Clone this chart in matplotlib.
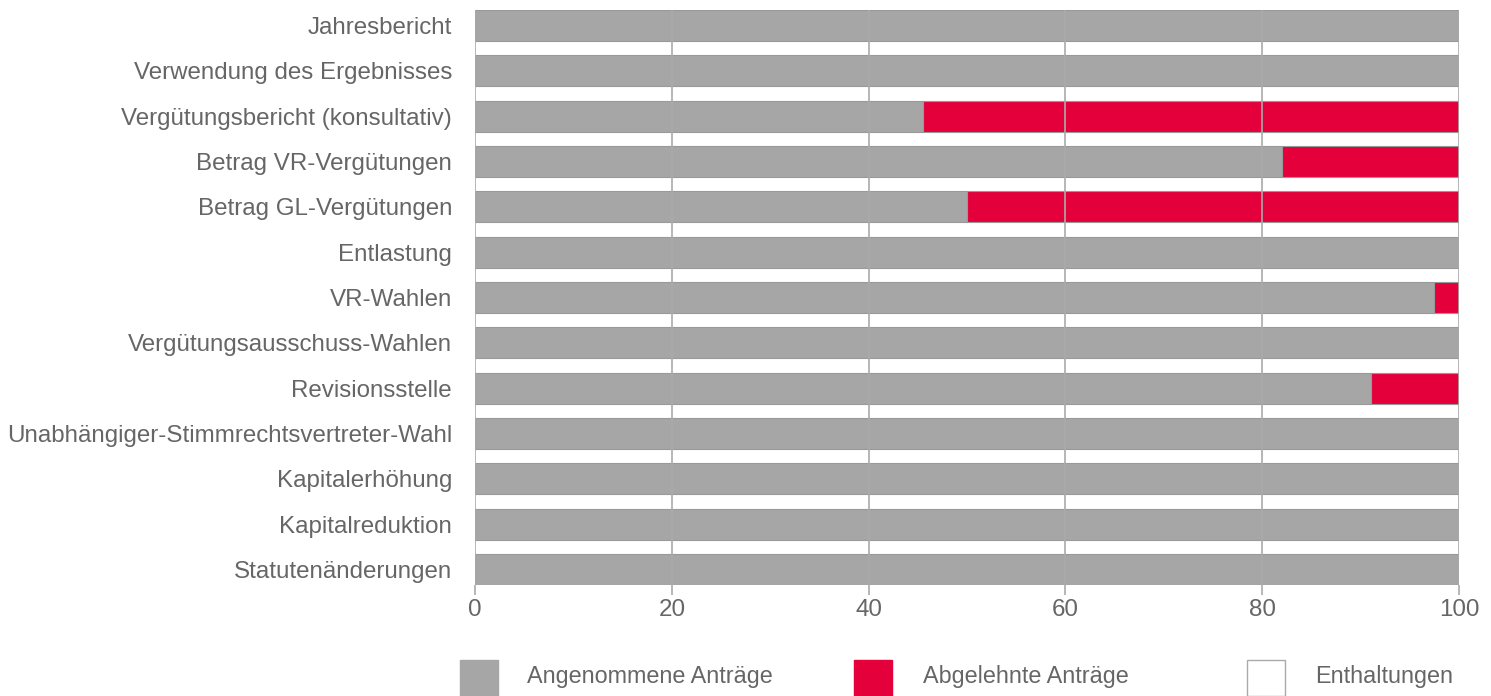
import matplotlib.pyplot as plt
from matplotlib.patches import Rectangle

plt.rcParams['font.family'] = ['Liberation Sans', 'DejaVu Sans']

# Daten
kategorien = [
    "Jahresbericht",
    "Verwendung des Ergebnisses",
    "Vergütungsbericht (konsultativ)",
    "Betrag VR-Vergütungen",
    "Betrag GL-Vergütungen",
    "Entlastung",
    "VR-Wahlen",
    "Vergütungsausschuss-Wahlen",
    "Revisionsstelle",
    "Unabhängiger-Stimmrechtsvertreter-Wahl",
    "Kapitalerhöhung",
    "Kapitalreduktion",
    "Statutenänderungen",
]
angenommen = [100, 100, 45.5, 82, 50, 100, 97.5, 100, 91, 100, 100, 100, 100]
abgelehnt = [0, 0, 54.5, 18, 50, 0, 2.5, 0, 9, 0, 0, 0, 0]
enthaltungen = [0, 0, 0, 0, 0, 0, 0, 0, 0, 0, 0, 0, 0]
x_ticks = [0, 20, 40, 60, 80, 100]
legende = ["Angenommene Anträge", "Abgelehnte Anträge", "Enthaltungen"]

grau = "#a6a6a6"
rot = "#e4003a"
text_farbe = "#666666"
fs = 17.4

fig = plt.figure(figsize=(14.91, 6.96), dpi=100)
ax = fig.add_axes([0.3186, 0.1595, 0.66, 0.8261])

y = list(range(len(kategorien)))
ax.barh(y, angenommen, height=0.68, color=grau, edgecolor="#999999", linewidth=0.8, zorder=2)
ax.barh(y, abgelehnt, left=angenommen, height=0.68, color=rot, edgecolor="#999999", linewidth=0.8, zorder=2)
links = [a + b for a, b in zip(angenommen, abgelehnt)]
ax.barh(y, enthaltungen, left=links, height=0.68, color="white", edgecolor="#999999", linewidth=0.8, zorder=2)

ax.set_xlim(0, 100)
ax.set_ylim(len(kategorien) - 1 + 0.34, -0.34)
ax.set_yticks(y)
ax.set_yticklabels(kategorien)
ax.set_xticks(x_ticks)
ax.grid(axis="x", color="#aaaaaa", linewidth=1.2, zorder=3)
ax.set_axisbelow(False)
for s in ax.spines.values():
    s.set_visible(False)
ax.tick_params(axis="y", length=0, pad=16.5, labelsize=fs, labelcolor=text_farbe)
ax.tick_params(axis="x", length=7, width=1.2, color="#aaaaaa", pad=3, labelsize=fs, labelcolor=text_farbe)

# Legende
farben = [grau, rot, "white"]
box_x = [460, 854, 1247]
text_x = [527, 923, 1315]
W, H = 1491, 696
for lbl, f, bx, tx in zip(legende, farben, box_x, text_x):
    fig.add_artist(Rectangle((bx / W, 0), 38 / W, 36 / H, transform=fig.transFigure,
                             facecolor=f, edgecolor="#aaaaaa" if f == "white" else f, linewidth=1))
    fig.text(tx / W, 1 - 677 / H, lbl, ha="left", va="center", fontsize=16.8, color=text_farbe)

plt.savefig("out.png", dpi=100)
